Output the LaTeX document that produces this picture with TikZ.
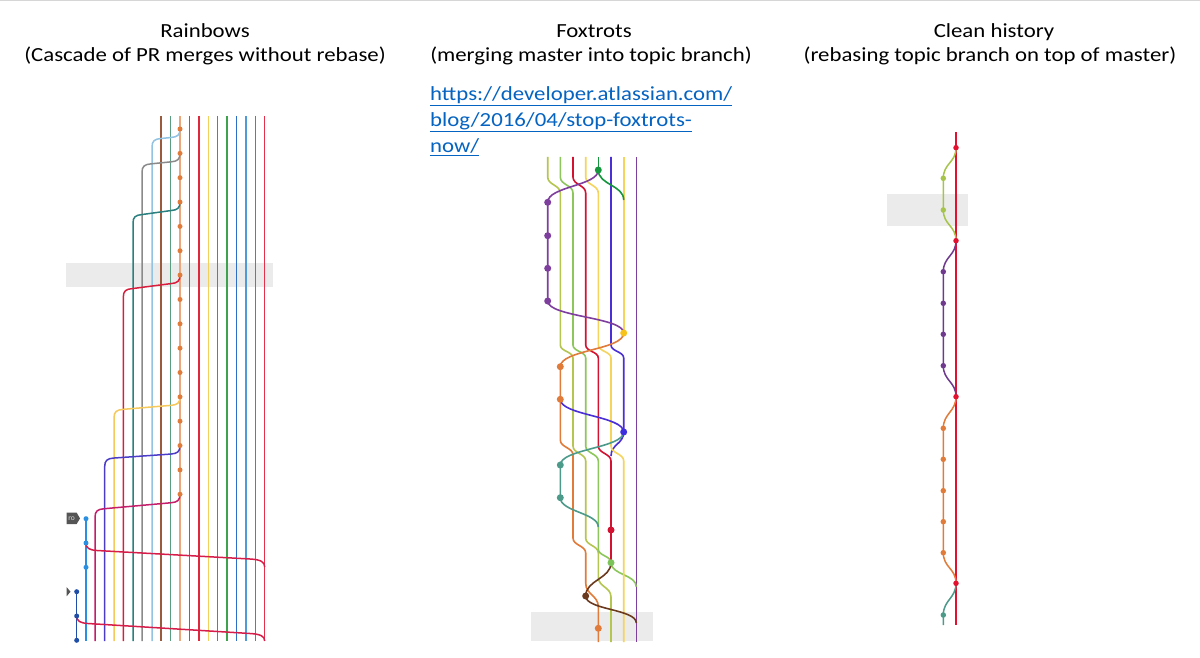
\documentclass[tikz,border=0pt]{standalone}
\usepackage{graphicx}
\usepackage{fontspec}
\setmainfont{Carlito}
\definecolor{rBrown}{HTML}{9A5B3C}
\definecolor{rTealG}{HTML}{5A9E82}
\definecolor{rOrange}{HTML}{E07B39}
\definecolor{rOrangeL}{HTML}{EBA77A}
\definecolor{rPurple}{HTML}{8E4FC0}
\definecolor{rRed}{HTML}{E0283C}
\definecolor{rYellow}{HTML}{F3D05A}
\definecolor{rSteel}{HTML}{4F7FB5}
\definecolor{rGreen}{HTML}{3FA34D}
\definecolor{rBlue}{HTML}{2D6FC4}
\definecolor{rLBlue}{HTML}{4F9AD9}
\definecolor{rMag}{HTML}{E03F8A}
\definecolor{rRedB}{HTML}{E5304A}
\definecolor{bLBlue}{HTML}{92C3E3}
\definecolor{bGrey}{HTML}{8A8A8A}
\definecolor{bTeal}{HTML}{2A7F7F}
\definecolor{bRed}{HTML}{D81E3C}
\definecolor{bYellow}{HTML}{F5C95C}
\definecolor{bIndigo}{HTML}{4B3CC8}
\definecolor{bMag}{HTML}{C41E6A}
\definecolor{bBlue}{HTML}{2A8FE0}
\definecolor{bDBlue}{HTML}{1F4EA8}
\definecolor{crim}{HTML}{D61C48}
\definecolor{tagGrey}{HTML}{555555}
\definecolor{fOlive}{HTML}{B5C650}
\definecolor{fGreen}{HTML}{8DC75B}
\definecolor{fRed}{HTML}{D31130}
\definecolor{fYellow}{HTML}{F5D35C}
\definecolor{fYellowDot}{HTML}{F7C21A}
\definecolor{fDGreen}{HTML}{14963C}
\definecolor{fIndigo}{HTML}{4A2FD6}
\definecolor{fPurple}{HTML}{7E3E9E}
\definecolor{fOrange}{HTML}{E07B39}
\definecolor{fTeal}{HTML}{4C9A8A}
\definecolor{fBrown}{HTML}{6B3A1E}
\definecolor{fBlueDot}{HTML}{3D2EE0}
\definecolor{fGreenDot}{HTML}{7CC35A}
\definecolor{cRed}{HTML}{E3102F}
\definecolor{cOlive}{HTML}{A5C449}
\definecolor{cPurple}{HTML}{6F3A8E}
\definecolor{cOrange}{HTML}{E07B39}
\definecolor{cTeal}{HTML}{4C9A8A}
\definecolor{barGrey}{HTML}{EBEBEB}
\definecolor{linkBlue}{HTML}{0563C1}
\definecolor{topGrey}{HTML}{D6D6D6}
\tikzset{
  rl/.style={line width=1.5pt},
  fl/.style={line width=1.6pt},
  cl/.style={line width=1.5pt},
  rdot/.style={circle,fill=#1,inner sep=0pt,minimum size=5pt},
  fdot/.style={circle,fill=#1,inner sep=0pt,minimum size=7pt},
  cdot/.style={circle,fill=#1,inner sep=0pt,minimum size=5.5pt},
  hbar/.style={fill=barGrey,draw=none},
  ttl/.style={font=\fontsize{20}{24}\selectfont,inner sep=0pt,anchor=base},
  lnk/.style={font=\fontsize{20}{24}\selectfont,inner sep=0pt,anchor=base west,text=linkBlue},
}
\newcommand{\wide}[1]{\scalebox{1.14}[1]{#1}}
\begin{document}
\begin{tikzpicture}[x=1pt,y=-1pt]
\useasboundingbox[fill=white] (0,0) rectangle (1200,658);
\draw[topGrey,line width=1pt] (0,0.5) -- (1200,0.5);

% titles
\node[ttl] (t1) at (205,37.7) {\wide{Rainbows}};
\node[ttl] (t1b) at (205,61.7) {\wide{(Cascade of PR merges without rebase)}};
\node[ttl] (t2) at (594,37.7) {\wide{Foxtrots}};
\node[ttl] (t2b) at (591,61.7) {\wide{(merging master into topic branch)}};
\node[ttl] (t3) at (994,37.7) {\wide{Clean history}};
\node[ttl] (t3b) at (990,61.7) {\wide{(rebasing topic branch on top of master)}};
\node[lnk] (l1) at (430,100.5) {\wide{\underline{https://developer.atlassian.com/}}};
\node[lnk] (l2) at (430,126.5) {\wide{\underline{blog/2016/04/stop-foxtrots-}}};
\node[lnk] (l3) at (430,152.5) {\wide{\underline{now/}}};

% highlight bars
\fill[hbar] (66,263) rectangle (273,287);
\fill[hbar] (531,612) rectangle (653,641);
\fill[hbar] (887,194) rectangle (968,226);

% ---------------- Rainbows ----------------
\foreach \x/\c in {161/rBrown,170.3/rTealG,189.3/rPurple,199/rRed,208.3/rYellow,217.7/rSteel,227/rGreen,236.7/rBlue,246/rLBlue,255.5/rMag,264.7/rRedB}
  \draw[rl,\c] (\x,116) -- (\x,641);
\draw[line width=2.4pt,rOrangeL] (180,116) -- (180,641);
\foreach \xb/\yd/\d/\c in {152/129/18/bLBlue,142/153.35/19/bGrey,133/202.05/21/bTeal,123.3/275.1/22/bRed,114/396.85/21/bYellow,104.7/445.55/21/bIndigo,95/494.25/23/bMag}
  \draw[rl,\c] (180,\yd) .. controls (180,{\yd+6}) and (177.5,{\yd+8}) .. (171,{\yd+8.5})
    -- ({\xb+9},{\yd+\d-8.5}) .. controls ({\xb+2.5},{\yd+\d-8}) and (\xb,{\yd+\d-6}) .. (\xb,{\yd+\d}) -- (\xb,641);
\draw[rl,bBlue] (86,518.7) -- (86,641);
\draw[rl,bDBlue] (76.7,591.7) -- (76.7,641);
\draw[rl,crim] (86,543) .. controls (86,548) and (89,550) .. (97,550.5) -- (250,559) .. controls (261,559.6) and (264.7,562) .. (264.7,567);
\draw[rl,crim] (76.7,616) .. controls (76.7,621) and (80,623) .. (88,623.5) -- (250,633.5) .. controls (261,634.1) and (264.7,636.5) .. (264.7,641);
\foreach \i in {0,...,15}
  \node[rdot=rOrange] (od\i) at (180,{129+24.35*\i}) {};
\foreach \y [count=\i] in {518.7,543,567.3}
  \node[rdot=bBlue] (bd\i) at (86,\y) {};
\foreach \y [count=\i] in {591.7,616,640.3}
  \node[rdot=bDBlue] (dd\i) at (76.7,\y) {};
% tags
\fill[tagGrey] (66.7,512.7) -- (76.7,512.7) -- (80,518.4) -- (76.7,524) -- (66.7,524) -- cycle;
\node[font=\fontsize{7.5}{7.5}\selectfont,text=white!85!black,inner sep=0pt] (tag1) at (71.5,518.4) {ro};
\fill[tagGrey] (66.7,587.2) -- (70.5,591.7) -- (66.7,596.2) -- cycle;

% ---------------- Foxtrots ----------------
\draw[fl,fPurple] (636.3,157) -- (636.3,642);
\draw[fl,fYellow] (623.7,157) -- (623.7,333);
\draw[fl,fIndigo] (611,157) -- (611,345) .. controls +(0,6.5) and +(0,-6.5) .. (623.7,358) -- (623.7,432);
\draw[fl,fIndigo] (623.7,432) .. controls +(0,12) and +(0,-12) .. (611,456);
\draw[fl,fDGreen] (598.3,157) -- (598.3,170);
\draw[fl,fDGreen] (598.3,170) .. controls +(0,15) and +(0,-15) .. (623.7,200);
\draw[fl,fOlive] (547.7,157) -- (547.7,177) .. controls +(0,8) and +(0,-8) .. (560.3,193) -- (560.3,345)
  .. controls +(0,6.5) and +(0,-6.5) .. (573,358) -- (573,446) .. controls +(0,7.5) and +(0,-7.5) .. (585.7,461)
  -- (585.7,538) .. controls +(0,7.5) and +(0,-7.5) .. (598.3,553) -- (598.3,577)
  .. controls +(0,10) and +(0,-10) .. (611,597) -- (611,642);
\draw[fl,fGreen] (560.3,157) -- (560.3,177) .. controls +(0,8) and +(0,-8) .. (573,193) -- (573,345)
  .. controls +(0,6.5) and +(0,-6.5) .. (585.7,358) -- (585.7,446) .. controls +(0,7.5) and +(0,-7.5) .. (598.3,461)
  -- (598.3,549) .. controls +(0,7) and +(0,-7) .. (611,562.7);
\draw[fl,fGreen] (611,562.7) .. controls +(0,12) and +(0,-12) .. (636.3,586.7);
\draw[fl,fRed] (573,157) -- (573,177) .. controls +(0,8) and +(0,-8) .. (585.7,193) -- (585.7,345)
  .. controls +(0,6.5) and +(0,-6.5) .. (598.3,358) -- (598.3,446) .. controls +(0,7.5) and +(0,-7.5) .. (611,461)
  -- (611,562.7);
\draw[fl,fYellow] (585.7,157) -- (585.7,177) .. controls +(0,8) and +(0,-8) .. (598.3,193) -- (598.3,345)
  .. controls +(0,6.5) and +(0,-6.5) .. (611,358) -- (611,446) .. controls +(0,7.5) and +(0,-7.5) .. (623.7,461)
  -- (623.7,642);
\draw[fl,fPurple] (598.3,170) .. controls +(0,16) and +(0,-16) .. (547.7,202.3) -- (547.7,301)
  .. controls +(0,16) and +(0,-16) .. (623.7,333);
\draw[fl,fOrange] (623.7,333) .. controls +(0,17) and +(0,-17) .. (560.3,366.7) -- (560.3,440)
  .. controls +(0,7.5) and +(0,-7.5) .. (573,455) -- (573,538) .. controls +(0,7.5) and +(0,-7.5) .. (585.7,553)
  -- (585.7,583) .. controls +(0,12) and +(0,-12) .. (598.3,607) -- (598.3,642);
\draw[fl,fIndigo] (560.3,399.3) .. controls +(0,16) and +(0,-16) .. (623.7,432);
\draw[fl,fTeal] (623.7,432) .. controls +(0,16) and +(0,-16) .. (560.3,465) -- (560.3,497.7)
  .. controls +(0,14) and +(0,-14) .. (598.3,527);
\draw[fl,fBrown] (611,562.7) .. controls +(0,16) and +(0,-16) .. (585.7,596)
  .. controls +(0,14) and +(0,-14) .. (636.3,623);
\node[fdot=fDGreen] (fg) at (598.3,170) {};
\foreach \y [count=\i] in {202.3,235.7,268.3,301}
  \node[fdot=fPurple] (fp\i) at (547.7,\y) {};
\node[fdot=fYellowDot] (fy) at (623.7,333) {};
\node[fdot=fOrange] (fo1) at (560.3,366.7) {};
\node[fdot=fOrange] (fo2) at (560.3,399.3) {};
\node[fdot=fBlueDot] (fb) at (623.7,432) {};
\node[fdot=fTeal] (ft1) at (560.3,465) {};
\node[fdot=fTeal] (ft2) at (560.3,497.7) {};
\node[fdot=fRed] (fr) at (611,530) {};
\node[fdot=fGreenDot] (fgr) at (611,562.7) {};
\node[fdot=fBrown] (fbr) at (585.7,596) {};
\node[fdot=fOrange] (fo3) at (598.3,628.3) {};

% ---------------- Clean history ----------------
\draw[cl,cRed] (956,132) -- (956,625);
\draw[cl,cOlive] (956,147.7) .. controls +(0,15) and +(0,-15) .. (943.3,178.3) -- (943.3,210)
  .. controls +(0,15) and +(0,-15) .. (956,240.7);
\draw[cl,cPurple] (956,240.7) .. controls +(0,15) and +(0,-15) .. (943.3,271.7) -- (943.3,365.7)
  .. controls +(0,15) and +(0,-15) .. (956,396.7);
\draw[cl,cOrange] (956,396.7) .. controls +(0,15) and +(0,-15) .. (943.3,428.3) -- (943.3,552.7)
  .. controls +(0,15) and +(0,-15) .. (956,583.3);
\draw[cl,cTeal] (956,583.3) .. controls +(0,15) and +(0,-15) .. (943.3,615) -- (943.3,625);
\foreach \y [count=\i] in {147.7,240.7,396.7,583.3}
  \node[cdot=cRed] (cr\i) at (956,\y) {};
\foreach \y [count=\i] in {178.3,210}
  \node[cdot=cOlive] (co\i) at (943.3,\y) {};
\foreach \y [count=\i] in {271.7,303.3,334.3,365.7}
  \node[cdot=cPurple] (cp\i) at (943.3,\y) {};
\foreach \y [count=\i] in {428.3,459.3,490.7,521.7,552.7}
  \node[cdot=cOrange] (cor\i) at (943.3,\y) {};
\node[cdot=cTeal] (ct) at (943.3,615) {};
\end{tikzpicture}
\end{document}
